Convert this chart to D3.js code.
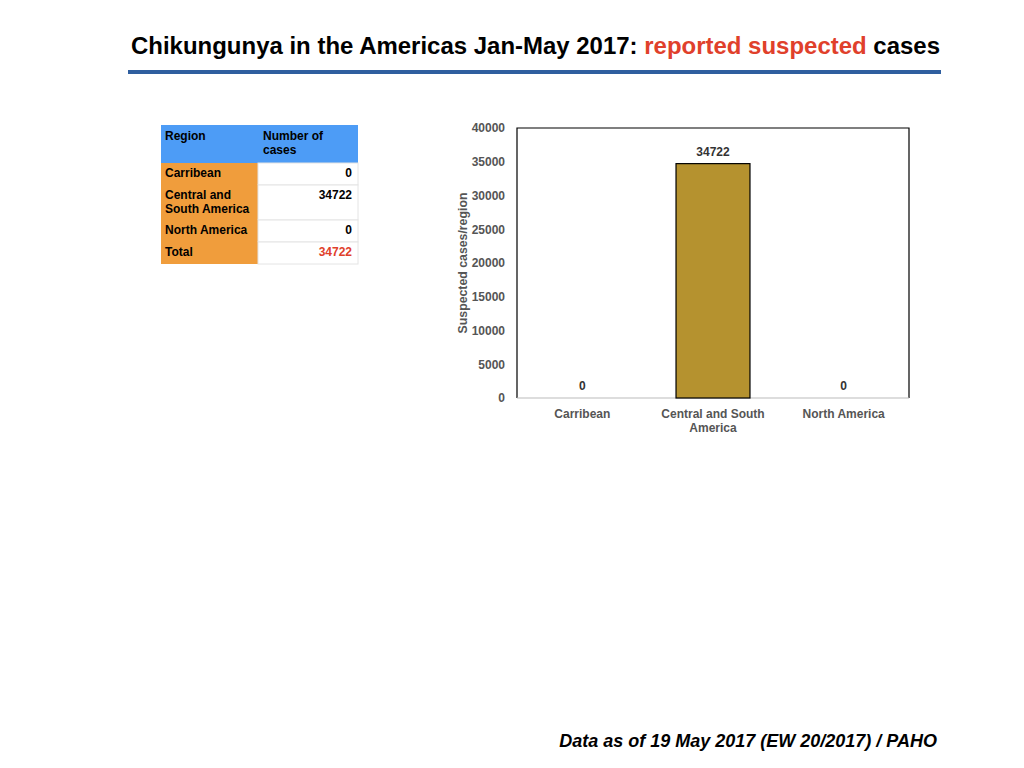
<!DOCTYPE html>
<html>
<head>
<meta charset="utf-8">
<script src="https://cdn.jsdelivr.net/npm/d3@7"></script>
<style>
  body { margin: 0; background: #fff; }
  svg { display: block; font-family: "Liberation Sans", Arial, sans-serif; }
</style>
</head>
<body>
<script>
var w = 1024;
var h = 768;

// data
var regions = ["Carribean", "Central and South America", "North America"];
var cases = [0, 34722, 0];
var regionLines = [["Carribean"], ["Central and South", "America"], ["North America"]];
var tableRegions = [["Carribean"], ["Central and", "South America"], ["North America"], ["Total"]];
var tableValues = [0, 34722, 0, 34722];
var yTicks = [0, 5000, 10000, 15000, 20000, 25000, 30000, 35000, 40000];

var svg = d3.select("body")
    .append("svg")
    .attr("width", w)
    .attr("height", h);

// title
var title = svg.append("text")
    .attr("x", 535.5)
    .attr("y", 54)
    .attr("text-anchor", "middle")
    .attr("font-size", 23.5)
    .attr("font-weight", "bold")
    .attr("textLength", 809)
    .attr("lengthAdjust", "spacingAndGlyphs")
    .attr("fill", "#000");
title.append("tspan").text("Chikungunya in the Americas Jan-May 2017: ");
title.append("tspan").attr("fill", "#e0402b").text("reported suspected");
title.append("tspan").text(" cases");

svg.append("rect")
    .attr("x", 128)
    .attr("y", 70)
    .attr("width", 813)
    .attr("height", 4)
    .attr("fill", "#2f5f9f");

// footer
svg.append("text")
    .attr("x", 937)
    .attr("y", 747)
    .attr("text-anchor", "end")
    .attr("font-size", 18)
    .attr("font-weight", "bold")
    .attr("font-style", "italic")
    .text("Data as of 19 May 2017 (EW 20/2017) / PAHO");

// table
var tx = 161, c1 = 97, c2 = 100;
var rowTops = [163, 185, 220, 242, 264];
var fs = 12;
var tbl = svg.append("g");

tbl.append("rect")
    .attr("x", tx).attr("y", 125)
    .attr("width", c1 + c2).attr("height", 38)
    .attr("fill", "#4d9cf6");
tbl.append("text").attr("x", tx + 4).attr("y", 140)
    .attr("font-size", fs).attr("font-weight", "bold").text("Region");
var hdr = tbl.append("text").attr("x", tx + c1 + 5).attr("y", 140)
    .attr("font-size", fs).attr("font-weight", "bold");
hdr.append("tspan").attr("x", tx + c1 + 5).text("Number of");
hdr.append("tspan").attr("x", tx + c1 + 5).attr("dy", 14).text("cases");

var rows = tbl.selectAll("g.row")
    .data(tableRegions)
    .enter()
    .append("g")
    .attr("class", "row");

rows.append("rect")
    .attr("x", tx)
    .attr("y", function(d, i) { return rowTops[i]; })
    .attr("width", c1)
    .attr("height", function(d, i) { return rowTops[i + 1] - rowTops[i]; })
    .attr("fill", "#f09d3c");

rows.append("rect")
    .attr("x", tx + c1)
    .attr("y", function(d, i) { return rowTops[i]; })
    .attr("width", c2)
    .attr("height", function(d, i) { return rowTops[i + 1] - rowTops[i]; })
    .attr("fill", "#fff")
    .attr("stroke", "#e4e4e4")
    .attr("stroke-width", 1);

rows.append("text")
    .attr("font-size", fs)
    .attr("font-weight", "bold")
    .attr("y", function(d, i) { return rowTops[i] + 14; })
    .each(function(d, i) {
        var t = d3.select(this);
        d.forEach(function(line, j) {
            t.append("tspan").attr("x", tx + 4).attr("dy", j ? 14 : 0).text(line);
        });
    });

rows.append("text")
    .attr("x", tx + c1 + c2 - 6)
    .attr("y", function(d, i) { return rowTops[i] + 14; })
    .attr("text-anchor", "end")
    .attr("font-size", fs)
    .attr("font-weight", "bold")
    .attr("fill", function(d, i) { return i == 3 ? "#e0402b" : "#000"; })
    .text(function(d, i) { return tableValues[i]; });

// bar chart
var px = 517, py = 128, pw = 392, ph = 270;

var xScale = d3.scaleBand()
    .domain(regions)
    .range([px, px + pw])
    .paddingInner(0.434)
    .paddingOuter(0.217);

var yScale = d3.scaleLinear()
    .domain([0, 40000])
    .range([py + ph, py]);

var yAxis = svg.append("g")
    .attr("transform", "translate(" + px + ",0)")
    .call(d3.axisLeft(yScale).tickValues(yTicks).tickSize(0).tickPadding(12).tickFormat(d3.format("d")));
yAxis.select(".domain").remove();
yAxis.selectAll("text")
    .attr("font-size", 12)
    .attr("font-weight", "bold")
    .attr("fill", "#555")
    .attr("font-family", "Liberation Sans, Arial, sans-serif");

// frame: black top/left/right, grey baseline
svg.append("path")
    .attr("d", "M" + px + "," + (py + ph) + "V" + py + "H" + (px + pw) + "V" + (py + ph))
    .attr("fill", "none")
    .attr("stroke", "#000")
    .attr("stroke-width", 1.2);
svg.append("line")
    .attr("x1", px).attr("x2", px + pw)
    .attr("y1", py + ph).attr("y2", py + ph)
    .attr("stroke", "#bbb")
    .attr("stroke-width", 1);

svg.selectAll("rect.bar")
    .data(cases)
    .enter()
    .append("rect")
    .attr("class", "bar")
    .attr("x", function(d, i) { return xScale(regions[i]); })
    .attr("y", function(d) { return yScale(d); })
    .attr("width", xScale.bandwidth())
    .attr("height", function(d) { return yScale(0) - yScale(d); })
    .attr("fill", "#b5922f")
    .attr("stroke", "#000")
    .attr("stroke-width", function(d) { return d > 0 ? 1.2 : 0; });

svg.selectAll("text.val")
    .data(cases)
    .enter()
    .append("text")
    .attr("class", "val")
    .attr("x", function(d, i) { return xScale(regions[i]) + xScale.bandwidth() / 2; })
    .attr("y", function(d) { return yScale(d) - 8; })
    .attr("text-anchor", "middle")
    .attr("font-size", 12)
    .attr("font-weight", "bold")
    .attr("fill", "#333")
    .text(function(d) { return d; });

svg.selectAll("text.cat")
    .data(regionLines)
    .enter()
    .append("text")
    .attr("class", "cat")
    .attr("y", py + ph + 20)
    .attr("text-anchor", "middle")
    .attr("font-size", 12)
    .attr("font-weight", "bold")
    .attr("fill", "#555")
    .each(function(d, i) {
        var t = d3.select(this);
        var cx = xScale(regions[i]) + xScale.bandwidth() / 2;
        d.forEach(function(line, j) {
            t.append("tspan").attr("x", cx).attr("dy", j ? 14 : 0).text(line);
        });
    });

svg.append("text")
    .attr("transform", "translate(467," + (py + ph / 2) + ") rotate(-90)")
    .attr("text-anchor", "middle")
    .attr("font-size", 12.3)
    .attr("font-weight", "bold")
    .attr("fill", "#555")
    .text("Suspected cases/region");
</script>
</body>
</html>
